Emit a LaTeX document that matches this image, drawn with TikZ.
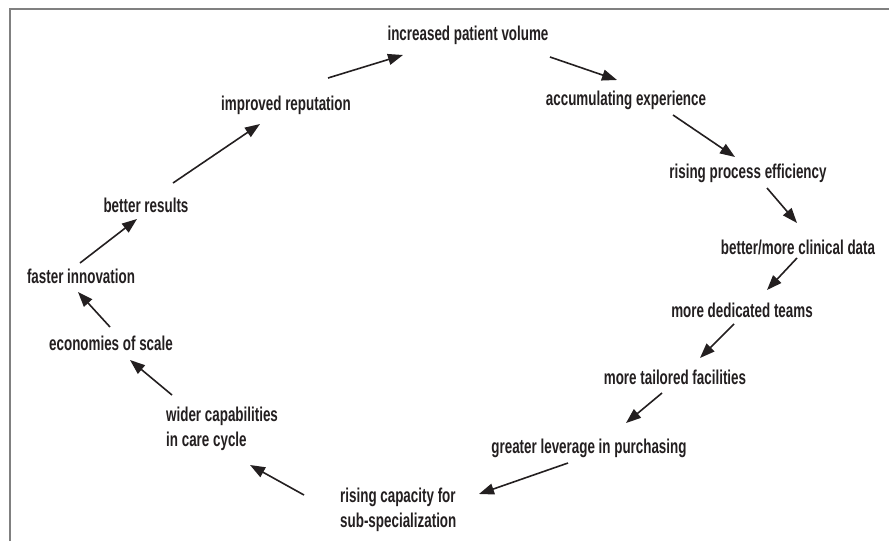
\documentclass[tikz,border=0pt]{standalone}
\usepackage{fontspec}
\setmainfont[FakeStretch=0.67]{Liberation Sans}
\usetikzlibrary{arrows.meta}
\definecolor{txt}{HTML}{231F20}
\definecolor{framegray}{HTML}{808080}
\begin{document}
\begin{tikzpicture}[x=1pt,y=-1pt,
  lbl/.style={inner sep=0pt, font=\fontsize{20}{25}\selectfont\bfseries, text=txt, anchor=base},
  lbltwo/.style={lbl, anchor=base west, align=left},
  arr/.style={draw=txt, line width=1.6pt, -{Triangle[length=15pt,width=11pt]}},
  framestyle/.style={draw=framegray, line width=1.3pt}]
\useasboundingbox (0,0) rectangle (889,541);
\draw[framestyle] (10,541) -- (10,9) -- (889,9);

\node[lbl] (vol)   at (468,40)  {increased patient volume};
\node[lbl] (acc)   at (626,105) {accumulating experience};
\node[lbl] (rep)   at (286,110) {improved reputation};
\node[lbl] (proc)  at (748,178) {rising process efficiency};
\node[lbl] (data)  at (798,254) {better/more clinical data};
\node[lbl] (teams) at (742,317) {more dedicated teams};
\node[lbl] (fac)   at (675,384) {more tailored facilities};
\node[lbl] (lev)   at (589,453) {greater leverage in purchasing};
\node[lbltwo] (cap) at (340,527) {rising capacity for\\sub-specialization};
\node[lbltwo] (wid) at (166,446) {wider capabilities\\in care cycle};
\node[lbl] (eco)   at (111,350) {economies of scale};
\node[lbl] (fast)  at (81,283)  {faster innovation};
\node[lbl] (res)   at (146,212) {better results};

\draw[arr] ([shift={(42,-32)}]rep.base) -- ([shift={(-65,15)}]vol.base);
\draw[arr] ([shift={(82,17)}]vol.base) -- ([shift={(-9,-25)}]acc.base);
\draw[arr] ([shift={(47,10)}]acc.base) -- ([shift={(-13,-21)}]proc.base);
\draw[arr] ([shift={(19,10)}]proc.base) -- ([shift={(-1,-31)}]data.base);
\draw[arr] ([shift={(-1,4)}]data.base) -- ([shift={(25,-27)}]teams.base);
\draw[arr] ([shift={(-8,7)}]teams.base) -- ([shift={(25,-26)}]fac.base);
\draw[arr] ([shift={(-13,9)}]fac.base) -- ([shift={(37,-30)}]lev.base);
\draw[arr] ([shift={(-21,10)}]lev.base) -- ([shift={(139,-33)}]cap.base west);
\draw[arr] ([shift={(-36,-32)}]cap.base west) -- ([shift={(84,19)}]wid.base west);
\draw[arr] ([shift={(6,-51)}]wid.base west) -- ([shift={(19,10)}]eco.base);
\draw[arr] ([shift={(-1,-23)}]eco.base) -- ([shift={(-3,9)}]fast.base);
\draw[arr] ([shift={(-1,-20)}]fast.base) -- ([shift={(-9,7)}]res.base);
\draw[arr] ([shift={(27,-29)}]res.base) -- ([shift={(-26,14)}]rep.base);
\end{tikzpicture}
\end{document}
